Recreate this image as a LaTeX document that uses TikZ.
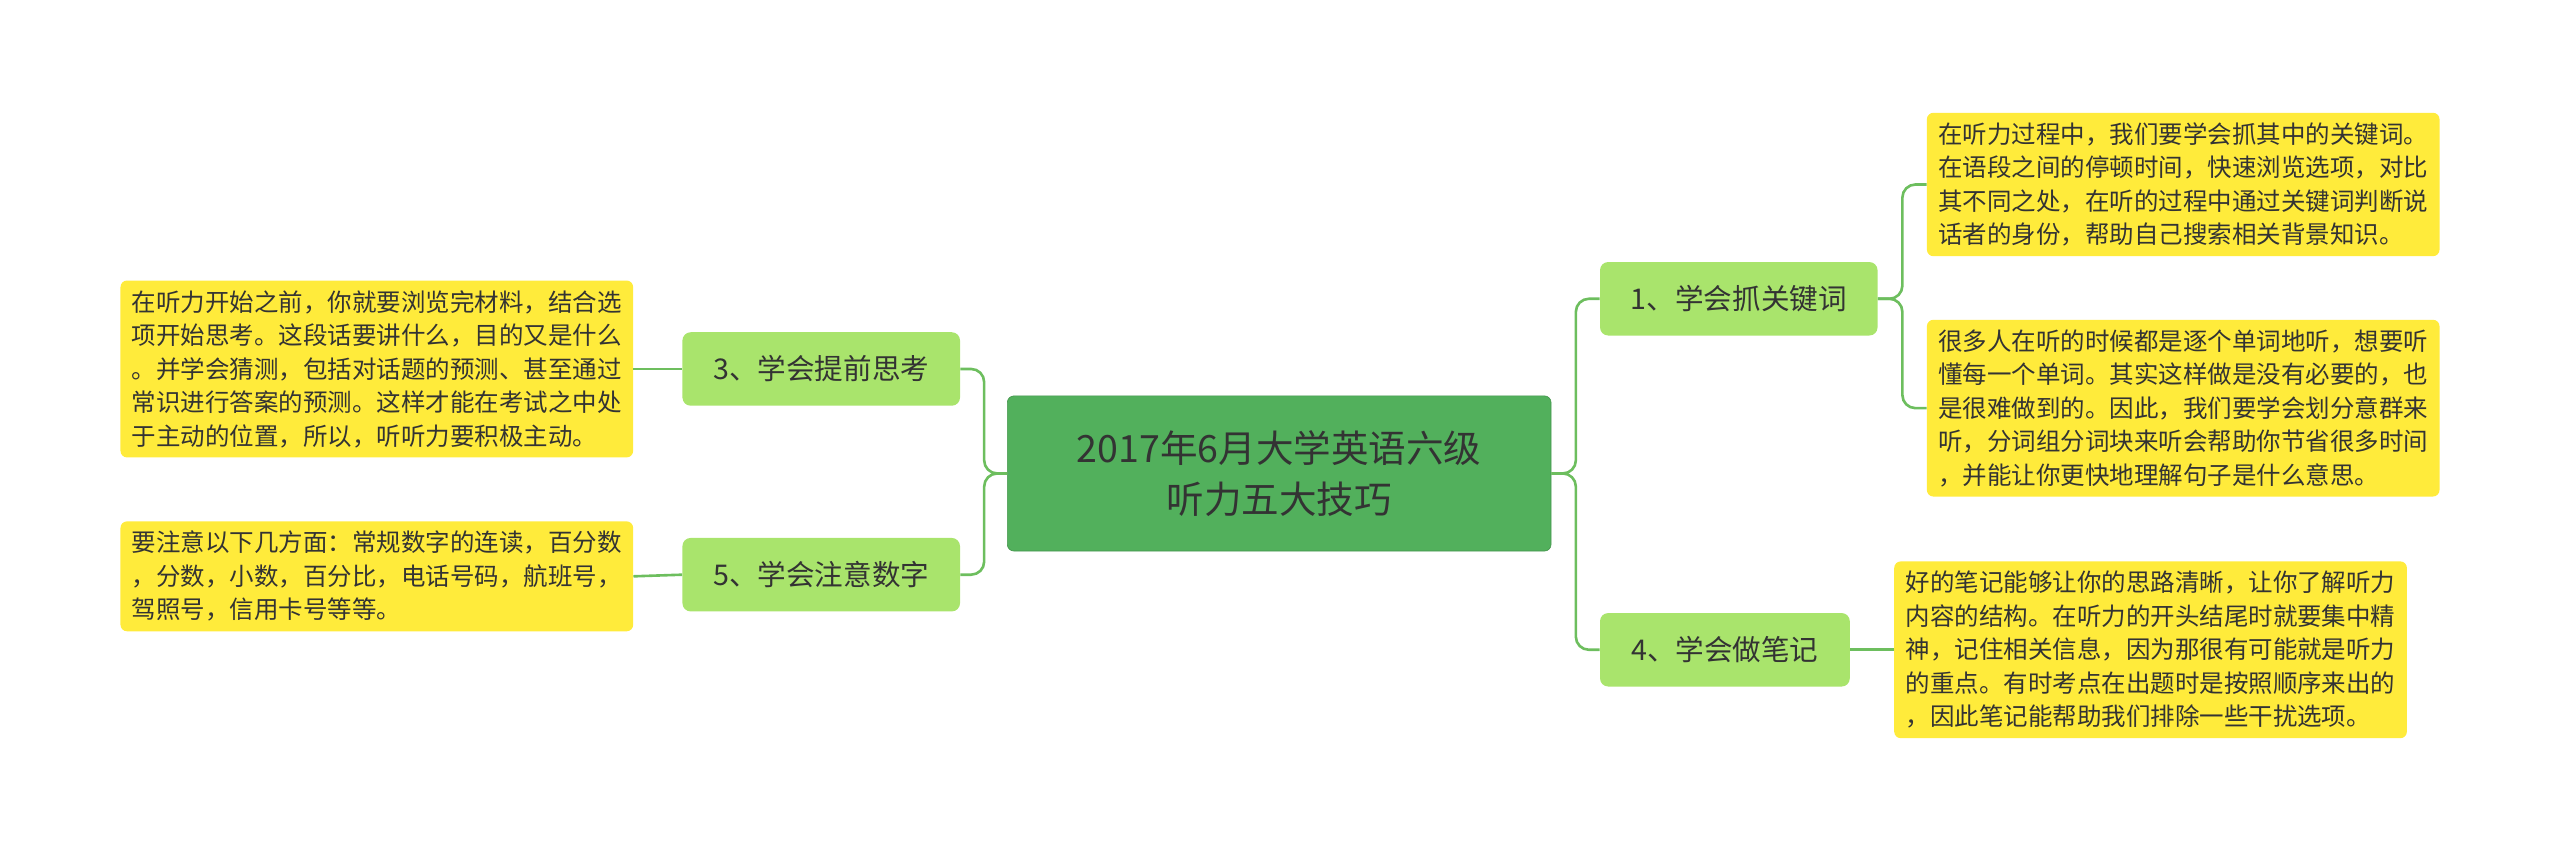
\documentclass[tikz,border=0pt]{standalone}
\usepackage{fontspec}
\setmainfont{Noto Sans CJK SC}
\usetikzlibrary{positioning}
\definecolor{rootgreen}{HTML}{52B05C}
\definecolor{subgreen}{HTML}{A9E46C}
\definecolor{leafyellow}{HTML}{FFEB3B}
\definecolor{linegreen}{HTML}{6DBE5E}
\definecolor{txt}{HTML}{333333}
\tikzset{
  rootbox/.style={fill=rootgreen, draw=rootgreen!85!black, rounded corners=4pt, minimum width=333pt, minimum height=95pt, align=center, font=\fontsize{23}{31}\selectfont, text=txt},
  subbox/.style={fill=subgreen, rounded corners=5pt, minimum height=45pt, inner xsep=10pt, font=\fontsize{17.5}{20}\selectfont, text=txt},
  leafbox/.style={fill=leafyellow, rounded corners=4pt, align=left, inner xsep=7pt, inner ysep=6pt, font=\fontsize{15}{20.5}\selectfont, text=txt, anchor=west},
  link/.style={draw=linegreen, line width=1.6pt, rounded corners=8pt}
}
\begin{document}
\begin{tikzpicture}[x=1pt,y=-1pt]
\useasboundingbox (0,0) rectangle (1568,521);
\node[rootbox] (root) at (783.5,290) {2017年6月大学英语六级\\听力五大技巧};
\node[subbox, minimum width=170pt] (b3) at (503,226) {3、学会提前思考};
\node[subbox, minimum width=170pt] (b5) at (503,352) {5、学会注意数字};
\node[subbox, minimum width=170pt] (b1) at (1065,183) {1、学会抓关键词};
\node[subbox, minimum width=153pt] (b4) at (1056.5,398) {4、学会做笔记};
% leaves
\node[leafbox, anchor=east] (l3) at (388,226) {在听力开始之前，你就要浏览完材料，结合选\\项开始思考。这段话要讲什么，目的又是什么\\。并学会猜测，包括对话题的预测、甚至通过\\常识进行答案的预测。这样才能在考试之中处\\于主动的位置，所以，听听力要积极主动。};
\node[leafbox, anchor=east] (l5) at (388,353) {要注意以下几方面：常规数字的连读，百分数\\，分数，小数，百分比，电话号码，航班号，\\驾照号，信用卡号等等。};
\node[leafbox] (l1a) at (1180,113) {在听力过程中，我们要学会抓其中的关键词。\\在语段之间的停顿时间，快速浏览选项，对比\\其不同之处，在听的过程中通过关键词判断说\\话者的身份，帮助自己搜索相关背景知识。};
\node[leafbox] (l1b) at (1180,250) {很多人在听的时候都是逐个单词地听，想要听\\懂每一个单词。其实这样做是没有必要的，也\\是很难做到的。因此，我们要学会划分意群来\\听，分词组分词块来听会帮助你节省很多时间\\，并能让你更快地理解句子是什么意思。};
\node[leafbox] (l4) at (1160,398) {好的笔记能够让你的思路清晰，让你了解听力\\内容的结构。在听力的开头结尾时就要集中精\\神，记住相关信息，因为那很有可能就是听力\\的重点。有时考点在出题时是按照顺序来出的\\，因此笔记能帮助我们排除一些干扰选项。};
% links
\draw[link] (root.west) -- ++(-14,0) |- (b3.east);
\draw[link] (root.west) -- ++(-14,0) |- (b5.east);
\draw[link] (root.east) -- ++(15,0) |- (b1.west);
\draw[link] (root.east) -- ++(15,0) |- (b4.west);
\draw[link] (b1.east) -- ++(15,0) |- (l1a.west);
\draw[link] (b1.east) -- ++(15,0) |- (l1b.west);
\draw[link] (b4.east) -- (l4.west);
\draw[link] (b3.west) -- (l3.east);
\draw[link] (b5.west) -- (l5.east);
\end{tikzpicture}
\end{document}
